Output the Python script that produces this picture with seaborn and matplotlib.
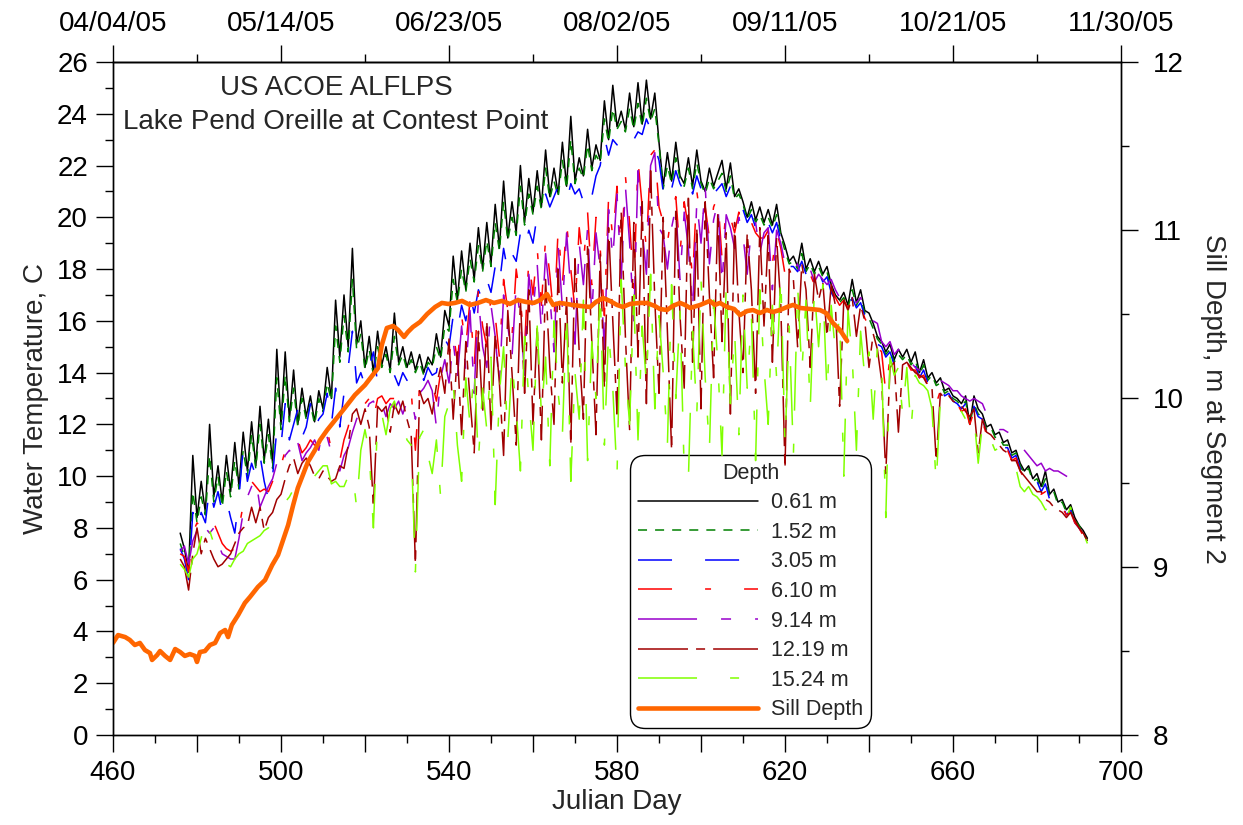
import numpy as np
import pandas as pd
import matplotlib
matplotlib.use("Agg")
import matplotlib.pyplot as plt
from matplotlib.ticker import FixedLocator, MultipleLocator, FuncFormatter
import seaborn as sns

# Daily samples, Julian day 476-692
julian_day = np.arange(476, 693)

temp_061 = [
    7.8, 7.2, 6.3, 10.8, 8.4, 9.8, 8.6, 12.0, 9.2, 10.4,
    9.0, 10.8, 9.4, 11.3, 9.6, 11.7, 10.2, 12.1, 10.4, 12.7,
    10.6, 12.2, 10.5, 14.9, 12.0, 14.8, 12.2, 14.1, 12.0, 13.4,
    12.3, 13.1, 12.1, 13.3, 12.6, 14.2, 13.0, 16.8, 14.6, 17.0,
    15.0, 18.8, 15.1, 16.0, 14.2, 15.4, 14.0, 15.6, 14.3, 15.0,
    14.1, 16.3, 14.4, 15.0, 14.2, 14.8, 14.1, 14.7, 14.0, 14.6,
    14.3, 15.5, 14.6, 16.4, 15.8, 18.5, 16.8, 18.7, 17.2, 19.0,
    17.6, 19.6, 18.0, 19.8, 18.2, 20.5, 18.8, 21.4, 19.2, 20.6,
    19.4, 22.0, 19.8, 21.5, 20.2, 21.8, 20.4, 22.6, 20.8, 21.9,
    20.9, 22.9, 21.2, 23.9, 21.4, 22.3, 21.6, 23.4, 21.9, 22.8,
    22.2, 24.5, 23.0, 25.1, 23.5, 24.1, 23.4, 24.8, 23.5, 25.2,
    23.6, 25.3, 23.8, 24.8, 22.9, 21.2, 22.5, 21.4, 22.9, 21.6,
    21.3, 22.3, 21.2, 22.6, 21.4, 21.0, 21.9, 21.2, 21.7, 22.2,
    21.1, 22.1, 20.8, 21.1, 20.6, 20.0, 20.6, 19.9, 20.4, 19.8,
    20.3, 19.7, 20.5, 19.4, 18.9, 18.3, 18.5, 18.1, 19.0, 18.0,
    18.4, 17.9, 18.3, 17.8, 18.1, 17.4, 17.0, 16.8, 17.1, 16.6,
    17.6, 16.7, 17.2, 16.4, 16.3, 15.9, 15.4, 15.2, 14.8, 15.1,
    14.5, 14.9, 14.6, 14.9, 14.4, 14.8, 14.0, 14.5, 13.8, 14.0,
    13.6, 13.8, 13.3, 13.4, 13.1, 13.0, 12.8, 13.1, 12.0, 13.1,
    12.6, 12.4, 11.9, 12.0, 11.6, 11.7, 11.3, 11.4, 10.9, 11.0,
    10.5, 10.2, 10.4, 9.9, 10.1, 9.6, 10.2, 9.3, 9.5, 9.0,
    9.1, 8.7, 8.9, 8.4, 8.1, 7.9, 7.6,
]

temp_152 = [
    7.4, 6.9, 6.2, 9.4, 8.2, 9.2, 8.5, 10.8, 9.0, 10.0,
    8.8, 10.2, 9.2, 10.6, 9.5, 11.0, 10.0, 11.6, 10.3, 12.0,
    10.5, 11.6, 10.3, 13.8, 11.8, 13.9, 12.1, 13.4, 11.9, 13.0,
    12.2, 12.8, 12.0, 13.0, 12.5, 13.6, 12.9, 15.8, 14.4, 16.2,
    14.8, 17.6, 14.9, 15.5, 14.1, 14.9, 13.9, 15.0, 14.2, 14.7,
    14.0, 15.4, 14.3, 14.7, 14.1, 14.5, 14.0, 14.4, 13.9, 14.4,
    14.2, 15.0, 14.5, 15.8, 15.6, 17.6, 16.7, 18.0, 17.1, 18.4,
    17.5, 18.9, 17.9, 19.1, 18.1, 19.8, 18.7, 20.6, 19.1, 20.0,
    19.3, 21.2, 19.7, 20.9, 20.1, 21.2, 20.3, 21.9, 20.7, 21.4,
    20.8, 22.2, 21.1, 23.0, 21.3, 21.9, 21.5, 22.8, 21.8, 22.4,
    22.1, 23.8, 22.9, 24.2, 23.4, 23.7, 23.3, 24.2, 23.4, 24.4,
    23.5, 24.6, 23.7, 24.2, 22.8, 21.1, 22.0, 21.3, 22.3, 21.5,
    21.2, 21.9, 21.1, 22.1, 21.3, 20.9, 21.5, 21.1, 21.4, 21.7,
    21.0, 21.6, 20.7, 20.9, 20.5, 19.9, 20.3, 19.8, 20.1, 19.7,
    20.0, 19.6, 20.1, 19.3, 18.7, 18.2, 18.3, 18.0, 18.6, 17.9,
    18.2, 17.8, 18.1, 17.7, 17.9, 17.2, 16.9, 16.7, 16.9, 16.5,
    17.2, 16.6, 16.9, 16.3, 16.1, 15.7, 15.3, 15.1, 14.7, 14.9,
    14.4, 14.7, 14.5, 14.7, 14.3, 14.5, 13.9, 14.3, 13.7, 13.9,
    13.5, 13.6, 13.2, 13.3, 13.0, 12.9, 12.7, 12.9, 12.0, 12.8,
    12.4, 12.3, 11.8, 11.9, 11.5, 11.5, 11.2, 11.2, 10.8, 10.9,
    10.4, 10.1, 10.3, 9.8, 9.9, 9.5, 9.9, 9.2, 9.4, 8.9,
    9.0, 8.6, 8.8, 8.3, 8.1, 7.8, 7.5,
]

temp_305 = [
    7.2, 6.8, 6.0, 8.6, 7.9, 8.6, 8.2, 9.6, 8.8, 9.4,
    8.6, 9.1, 8.4, 7.8, 9.2, 11.1, 9.8, 10.5, 10.0, 10.8,
    9.8, 9.1, 10.0, 11.8, 11.2, 12.8, 11.4, 12.0, 12.6, 11.5,
    11.9, 12.8, 11.8, 12.2, 12.4, 13.2, 12.0, 13.4, 11.9, 13.2,
    14.2, 15.6, 13.6, 14.0, 13.5, 14.2, 14.8, 13.6, 13.8, 13.8,
    13.6, 13.9, 13.5, 14.0, 13.7, 14.0, 13.8, 14.1, 13.7, 14.2,
    13.9, 14.0, 14.9, 15.3, 15.0, 16.2, 15.6, 16.6, 16.0, 17.0,
    16.3, 17.2, 16.8, 17.6, 17.1, 18.1, 17.4, 18.8, 17.9, 18.6,
    18.3, 19.4, 18.8, 19.5, 19.0, 20.1, 20.5, 20.9, 20.4, 20.8,
    21.2, 21.0, 20.6, 21.3, 20.9, 21.1, 20.6, 21.2, 20.8, 21.6,
    22.0, 23.1, 22.4, 23.0, 22.8, 22.9, 22.6, 23.1, 23.0, 23.3,
    23.2, 23.8, 23.4, 22.7, 22.2, 21.0, 21.6, 21.1, 21.8, 21.3,
    21.0, 21.5, 20.9, 21.6, 21.1, 20.8, 21.2, 20.9, 21.1, 21.3,
    20.8, 21.2, 20.5, 20.6, 20.3, 19.8, 20.1, 19.6, 19.9, 19.5,
    19.8, 19.4, 19.8, 19.1, 18.5, 18.1, 18.1, 17.9, 18.3, 17.8,
    18.0, 17.6, 17.9, 17.5, 17.7, 17.1, 16.8, 16.6, 16.7, 16.4,
    16.9, 16.5, 16.7, 16.2, 16.0, 15.6, 15.1, 15.0, 14.6, 14.8,
    14.3, 14.5, 14.4, 14.5, 14.2, 14.3, 13.8, 14.1, 13.6, 13.8,
    13.4, 13.5, 13.1, 13.2, 12.9, 12.8, 12.6, 12.8, 12.0, 12.7,
    12.3, 12.2, 11.7, 11.8, 11.4, 11.4, 11.1, 11.1, 10.7, 10.8,
    10.3, 10.0, 10.2, 9.7, 9.8, 9.4, 9.7, 9.1, 9.3, 8.8,
    8.9, 8.5, 8.7, 8.2, 8.0, 7.7, 7.5,
]

temp_610 = [
    7.0, 6.9, 6.3, 7.8, 8.2, 8.0, 8.4, 8.1, 8.2, 7.8,
    7.4, 7.2, 7.1, 7.2, 8.0, 8.9, 9.3, 9.8, 9.6, 9.4,
    9.5, 9.4, 9.8, 10.6, 10.4, 11.0, 11.2, 11.0, 11.4, 10.9,
    11.1, 11.4, 11.2, 11.2, 11.9, 11.8, 11.0, 11.2, 10.6, 11.4,
    11.9, 12.6, 12.8, 12.9, 12.8, 13.0, 12.2, 13.0, 13.1, 12.8,
    13.0, 13.0, 13.2, 13.0, 13.2, 13.3, 11.0, 13.5, 13.6, 13.8,
    13.6, 12.9, 14.0, 14.8, 14.6, 15.6, 14.4, 16.2, 15.0, 16.8,
    14.2, 17.2, 15.8, 15.0, 17.0, 16.2, 14.6, 17.6, 16.4, 15.4,
    18.0, 16.8, 15.0, 18.4, 17.0, 18.8, 16.6, 19.2, 17.8, 16.0,
    19.6, 17.4, 19.8, 18.0, 16.4, 19.6, 18.2, 20.2, 17.4, 20.0,
    18.8, 16.2, 20.8, 19.2, 21.2, 18.6, 21.6, 19.8, 17.2, 22.2,
    20.4, 18.8, 22.4, 22.6, 20.4, 19.8, 19.0, 20.2, 20.8, 18.6,
    20.6, 19.6, 17.6, 21.0, 19.8, 20.4, 19.2, 20.4, 20.8, 18.4,
    20.4, 20.0, 19.4, 20.2, 19.6, 18.6, 19.8, 19.4, 19.2, 19.2,
    19.5, 18.2, 19.5, 18.8, 17.8, 17.9, 17.9, 17.8, 17.8, 17.7,
    17.8, 17.4, 17.6, 17.4, 17.2, 17.3, 16.9, 16.6, 16.8, 16.5,
    16.8, 16.4, 16.6, 16.1, 15.8, 15.4, 15.0, 14.8, 13.2, 14.6,
    14.3, 14.4, 14.3, 14.4, 14.1, 14.1, 13.8, 13.9, 13.5, 13.6,
    12.8, 13.3, 13.0, 13.1, 12.8, 12.8, 12.5, 12.6, 12.0, 12.5,
    11.9, 12.1, 11.6, 11.6, 11.3, 11.3, 11.0, 11.0, 10.6, 10.7,
    10.2, 9.9, 10.0, 9.6, 9.6, 9.3, 9.4, 9.0, 9.1, 8.8,
    8.8, 8.5, 8.6, 8.2, 8.0, 7.7, 7.5,
]

temp_914 = [
    7.1, 7.3, 6.6, 7.5, 7.9, 7.6, 8.0, 7.8, 8.0, 7.4,
    7.0, 6.9, 6.8, 6.8, 7.6, 8.6, 9.2, 9.6, 9.9, 8.8,
    9.2, 9.6, 9.9, 10.5, 10.2, 10.8, 11.0, 10.7, 11.3, 10.6,
    10.9, 11.1, 11.4, 11.0, 11.8, 11.5, 10.9, 10.4, 10.2, 10.8,
    11.1, 11.7, 12.2, 12.6, 12.4, 12.8, 12.9, 12.5, 12.8, 12.3,
    12.8, 12.6, 12.9, 12.4, 12.9, 13.0, 12.2, 13.2, 13.4, 13.7,
    13.3, 11.9, 13.8, 14.5, 13.6, 15.2, 13.8, 15.8, 14.1, 16.4,
    13.2, 16.9, 15.0, 14.2, 16.6, 15.4, 13.5, 17.0, 15.8, 14.6,
    17.4, 16.1, 13.9, 17.8, 16.3, 18.2, 15.6, 18.6, 17.0, 14.8,
    18.9, 16.5, 19.4, 17.2, 15.1, 19.0, 17.4, 19.6, 16.2, 19.4,
    18.0, 14.9, 20.3, 18.4, 20.9, 17.6, 21.2, 19.0, 16.0, 21.8,
    19.5, 17.8, 22.0, 22.5, 19.6, 19.3, 18.0, 19.6, 20.4, 17.6,
    20.2, 18.8, 16.4, 20.6, 19.0, 21.2, 18.2, 19.9, 20.6, 17.4,
    20.1, 19.6, 18.8, 20.0, 19.3, 17.8, 19.6, 19.8, 18.6, 19.4,
    19.6, 17.2, 19.5, 19.0, 18.2, 18.1, 17.9, 18.2, 17.6, 17.9,
    18.0, 17.5, 17.8, 17.6, 17.4, 17.6, 17.2, 16.9, 17.0, 16.8,
    16.9, 16.7, 16.9, 16.5, 16.2, 16.0, 15.9, 15.2, 15.0, 15.2,
    14.7, 14.9, 14.6, 14.7, 14.4, 14.2, 14.1, 14.0, 14.0, 13.9,
    13.7, 13.7, 13.6, 13.5, 13.3, 13.3, 13.1, 13.0, 12.9, 13.0,
    12.9, 12.8, 12.4, 12.1, 11.9, 11.8, 11.8, 11.7, 11.6, 11.4,
    11.3, 11.0, 10.8, 10.6, 10.4, 10.5, 10.2, 10.3, 10.2, 10.2,
    10.1, 10.0, 9.9, 9.9, 9.6, 9.4, np.nan,
]

temp_1219 = [
    6.8, 6.5, 5.6, 7.0, 8.0, 7.0, 7.6, 7.2, 6.8, 6.5,
    6.6, 6.8, 7.0, 7.4, 7.8, 8.0, 8.1, 8.8, 8.2, 8.8,
    7.9, 8.4, 8.6, 9.1, 9.3, 9.9, 10.4, 10.7, 10.1, 10.5,
    10.7, 10.4, 10.0, 9.9, 10.2, 10.0, 9.8, 9.9, 10.4, 10.3,
    11.2, 12.4, 12.6, 12.0, 12.6, 11.9, 8.8, 12.7, 12.5, 12.7,
    11.7, 12.8, 12.4, 12.9, 12.2, 11.6, 6.6, 13.3, 12.8, 13.0,
    12.4, 13.5, 14.2, 13.2, 15.3, 12.2, 14.8, 11.6, 15.2, 13.0,
    10.9, 15.6, 12.4, 16.0, 11.8, 15.5, 13.6, 10.8, 16.4, 14.0,
    11.2, 16.8, 13.2, 17.2, 12.0, 15.8, 11.4, 17.6, 14.2, 12.0,
    18.0, 13.6, 16.9, 11.2, 18.4, 14.8, 12.2, 19.0, 15.2, 11.6,
    18.6, 13.4, 19.6, 16.0, 12.4, 20.2, 15.4, 11.8, 19.8, 14.6,
    20.6, 12.8, 21.8, 16.8, 13.2, 20.0, 15.6, 11.0, 20.4, 16.2,
    13.4, 20.9, 14.4, 19.6, 12.6, 20.6, 17.0, 13.8, 20.2, 15.2,
    19.4, 12.4, 19.8, 16.4, 14.0, 19.4, 17.2, 13.2, 19.6, 15.8,
    19.3, 14.4, 19.2, 16.6, 10.3, 18.0, 17.6, 15.0, 18.2, 17.2,
    14.2, 17.8, 16.8, 17.5, 15.4, 17.4, 16.6, 12.7, 16.8, 16.4,
    16.9, 15.4, 16.6, 16.0, 14.2, 15.5, 14.9, 13.7, 10.1, 14.2,
    14.4, 11.7, 14.3, 14.4, 14.2, 14.0, 13.9, 13.8, 13.5, 13.4,
    10.6, 13.2, 13.0, 13.1, 12.9, 12.8, 12.7, 12.5, 12.3, 12.6,
    10.9, 12.2, 11.7, 11.6, 11.4, 11.2, 11.0, 10.9, 10.6, 10.6,
    10.2, 10.0, 9.8, 9.6, 9.4, 9.4, 9.1, 9.0, 8.8, 8.7,
    8.6, 8.4, 8.6, 8.3, 8.0, 7.8, 7.5,
]

temp_1524 = [
    6.6, 6.4, 6.1, 6.8, 7.0, 7.6, 8.4, 7.9, 7.4, 6.9,
    6.6, 6.6, 6.5, 6.8, 7.0, 7.1, 7.4, 7.5, 7.6, 7.7,
    7.9, 8.0, 8.4, 8.6, 8.8, 9.0, 9.2, 9.5, 9.7, 9.9,
    9.9, 10.1, 10.0, 10.2, 10.4, 10.4, 9.7, 9.8, 9.6, 9.6,
    10.0, 10.2, 8.8, 11.0, 11.8, 10.9, 8.0, 12.2, 12.4, 11.6,
    12.6, 12.9, 12.2, 12.0, 11.4, 11.2, 6.3, 11.5, 11.8, 10.8,
    10.1, 11.4, 9.2, 12.3, 12.8, 13.6, 11.2, 9.8, 13.8, 12.0,
    14.2, 10.6, 13.4, 11.8, 14.6, 8.9, 13.2, 15.0, 11.4, 14.4,
    12.6, 10.2, 15.4, 13.0, 11.0, 15.8, 12.4, 14.6, 10.4, 16.0,
    13.2, 11.6, 16.4, 9.8, 14.0, 12.2, 16.8, 10.6, 15.2, 13.0,
    17.2, 11.2, 15.6, 13.4, 10.0, 17.6, 14.2, 12.0, 17.0, 11.4,
    15.8, 13.6, 17.8, 12.6, 16.2, 14.0, 11.2, 17.4, 13.0, 16.4,
    10.2, 9.9, 15.6, 12.4, 17.6, 13.8, 11.0, 16.8, 14.4, 10.8,
    17.4, 12.8, 15.6, 11.6, 17.0, 13.4, 16.2, 10.6, 17.2, 14.2,
    12.0, 16.6, 13.8, 17.8, 11.2, 15.8, 10.8, 17.4, 14.0, 16.8,
    12.6, 17.2, 15.0, 17.4, 13.2, 16.6, 14.8, 16.2, 10.0, 16.4,
    14.6, 11.0, 15.6, 13.8, 14.8, 12.2, 15.0, 14.4, 8.4, 14.6,
    13.9, 14.2, 12.4, 14.2, 11.8, 13.9, 13.6, 13.5, 13.3, 12.6,
    9.7, 13.0, 12.9, 12.9, 12.7, 12.6, 12.5, 12.2, 12.0, 12.3,
    10.5, 12.0, 11.5, 11.4, 11.0, 11.1, 10.9, 10.7, 10.4, 10.3,
    9.6, 9.4, 9.6, 9.3, 9.2, 9.0, 8.7, 8.8, 8.6, 8.6,
    8.7, 8.4, 8.8, 8.2, 8.0, 7.8, 7.4,
]

# Sill depth at segment 2 (m), right-hand axis
sill_day = [
    460.0, 461.2, 462.9, 464.0, 465.2, 466.4, 467.6, 468.8, 469.3, 470.5,
    471.2, 472.4, 473.6, 474.8, 476.0, 477.1, 478.3, 479.5, 480.0, 480.7,
    481.9, 483.1, 484.3, 485.5, 486.7, 487.4, 488.3, 489.8, 491.4, 492.6,
    494.5, 496.2, 497.9, 499.3, 500.5, 501.7, 502.9, 504.0, 505.2, 506.4,
    508.1, 509.3, 511.0, 512.9, 515.2, 517.6, 520.0, 522.4, 523.1, 524.0,
    525.2, 526.7, 527.9, 529.3, 530.2, 531.4, 533.1, 534.8, 536.7, 538.3,
    539.8, 541.4, 543.1, 545.0, 546.9, 548.8, 550.7, 552.6, 554.5, 556.4,
    558.3, 560.2, 561.7, 563.3, 564.8, 566.4, 569.5, 571.2, 573.6, 575.0,
    576.7, 578.3, 580.0, 581.4, 583.1, 585.5, 587.1, 589.0, 590.2, 591.9,
    593.3, 595.0, 596.2, 597.4, 599.8, 602.1, 603.3, 604.5, 606.2, 607.9,
    609.3, 611.0, 612.4, 614.0, 615.7, 617.1, 618.8, 620.5, 621.9, 623.6,
    626.0, 628.3, 629.8, 631.4, 633.1, 634.8,
]
sill_depth = [
    8.547, 8.594, 8.582, 8.565, 8.535, 8.547, 8.505, 8.487, 8.446, 8.475,
    8.499, 8.470, 8.446, 8.511, 8.493, 8.470, 8.481, 8.470, 8.434, 8.493,
    8.499, 8.535, 8.547, 8.606, 8.624, 8.582, 8.654, 8.713, 8.785, 8.820,
    8.880, 8.921, 9.010, 9.070, 9.159, 9.248, 9.367, 9.468, 9.545, 9.623,
    9.694, 9.753, 9.813, 9.872, 9.944, 10.021, 10.080, 10.158, 10.181, 10.318,
    10.419, 10.431, 10.407, 10.366, 10.395, 10.425, 10.455, 10.502, 10.544, 10.568,
    10.562, 10.568, 10.580, 10.556, 10.568, 10.585, 10.568, 10.580, 10.562, 10.585,
    10.574, 10.568, 10.585, 10.621, 10.556, 10.568, 10.556, 10.550, 10.544, 10.574,
    10.597, 10.580, 10.556, 10.544, 10.562, 10.568, 10.568, 10.550, 10.532, 10.526,
    10.550, 10.568, 10.556, 10.538, 10.556, 10.580, 10.556, 10.568, 10.544, 10.532,
    10.496, 10.520, 10.526, 10.508, 10.526, 10.514, 10.526, 10.544, 10.556, 10.538,
    10.532, 10.526, 10.508, 10.449, 10.407, 10.342,
]

depth_labels = ["0.61 m", "1.52 m", "3.05 m", "6.10 m", "9.14 m", "12.19 m", "15.24 m"]
bottom_tick_days = [460, 500, 540, 580, 620, 660, 700]
top_tick_labels = ["04/04/05", "05/14/05", "06/23/05", "08/02/05",
                   "09/11/05", "10/21/05", "11/30/05"]

series = [temp_061, temp_152, temp_305, temp_610, temp_914, temp_1219, temp_1524]
df = pd.DataFrame({"day": julian_day})
for lab, vals in zip(depth_labels, series):
    df[lab] = vals

line_styles = [
    ("#000000", None),
    ("#008000", (6.5, 5.8)),
    ("#0000ff", (24.5, 23.8)),
    ("#ff0000", (24.5, 23.8, 4.3, 23.8)),
    ("#9900cc", (42.5, 17.3, 7.2, 17.3)),
    ("#a00000", (36.0, 5.8, 6.5, 5.8)),
    ("#80ff00", (42.5, 23.8, 6.5, 23.8)),
]

sns.set_style("ticks")
plt.rcParams["font.family"] = ["Liberation Sans", "DejaVu Sans"]
plt.rcParams["lines.scale_dashes"] = False
plt.rcParams["axes.linewidth"] = 1.0
plt.rcParams["axes.edgecolor"] = "black"
plt.rcParams["xtick.color"] = "black"
plt.rcParams["ytick.color"] = "black"

FS = 20

fig = plt.figure(figsize=(12.43, 8.25), dpi=100)
ax = fig.add_axes([113 / 1243, 90 / 825, 1008 / 1243, 673 / 825])

handles = []
for lab, (color, dash) in zip(depth_labels, line_styles):
    sns.lineplot(data=df, x="day", y=lab, ax=ax, color=color, lw=1.1,
                 estimator=None, sort=False, legend=False)
    ln = ax.lines[-1]
    if dash is not None:
        ln.set_dashes(dash)
    ln.set_label(lab)
    ln.set_zorder(2)
    handles.append(ln)

ax.set_xlim(460, 700)
ax.set_ylim(0, 26)
ax.xaxis.set_major_locator(FixedLocator(list(range(460, 701, 20))))
ax.xaxis.set_major_formatter(
    FuncFormatter(lambda v, p: f"{int(round(v))}" if int(round(v)) in bottom_tick_days else ""))
ax.xaxis.set_minor_locator(MultipleLocator(10))
ax.yaxis.set_major_locator(MultipleLocator(2))
ax.yaxis.set_minor_locator(MultipleLocator(1))
ax.tick_params(which="major", direction="out", length=12, width=1.0, labelsize=FS, pad=6)
ax.tick_params(which="minor", direction="out", length=6, width=1.0)
ax.set_xlabel("Julian Day", fontsize=FS, labelpad=2)
ax.set_ylabel("Water Temperature, C", fontsize=FS, labelpad=6)

# Right-hand axis: sill depth
ax2 = ax.twinx()
sns.lineplot(x=sill_day, y=sill_depth, ax=ax2, color="#ff6600", lw=3.3,
             estimator=None, sort=False, legend=False)
sill_line = ax2.lines[-1]
sill_line.set_label("Sill Depth")
sill_line.set_solid_joinstyle("round")
ax2.set_ylim(8, 12)
ax2.yaxis.set_major_locator(MultipleLocator(1))
ax2.yaxis.set_minor_locator(MultipleLocator(0.5))
ax2.tick_params(which="major", direction="out", length=12, width=1.0, labelsize=FS, pad=11)
ax2.tick_params(which="minor", direction="out", length=6, width=1.0)
ax2.set_ylabel("Sill Depth, m at Segment 2", fontsize=FS, rotation=270, labelpad=30)

# Top axis with calendar dates
top = ax.secondary_xaxis("top")
top.xaxis.set_major_locator(FixedLocator(bottom_tick_days))
top.set_xticklabels(top_tick_labels)
top.xaxis.set_minor_locator(MultipleLocator(20))
top.tick_params(which="major", direction="out", length=12, width=1.0, labelsize=FS, pad=6)
top.tick_params(which="minor", direction="out", length=6, width=1.0)

ax.text(0.222, 0.961, "US ACOE ALFLPS", transform=ax.transAxes,
        ha="center", va="center", fontsize=FS)
ax.text(0.221, 0.911, "Lake Pend Oreille at Contest Point", transform=ax.transAxes,
        ha="center", va="center", fontsize=FS)

leg = ax.legend(handles + [sill_line], depth_labels + ["Sill Depth"], title="Depth",
                loc="lower left", bbox_to_anchor=(0.513, 0.0104), borderaxespad=0,
                fontsize=15.5, title_fontsize=15.5, handlelength=5.6,
                handletextpad=0.6, labelspacing=0.40, borderpad=0.35,
                frameon=True, fancybox=True, framealpha=1, edgecolor="black")
leg.get_frame().set_linewidth(1.0)
leg.get_frame().set_boxstyle("round", pad=0, rounding_size=0.7)
leg.set_zorder(1.5)

fig.savefig("out.png", dpi=100)
